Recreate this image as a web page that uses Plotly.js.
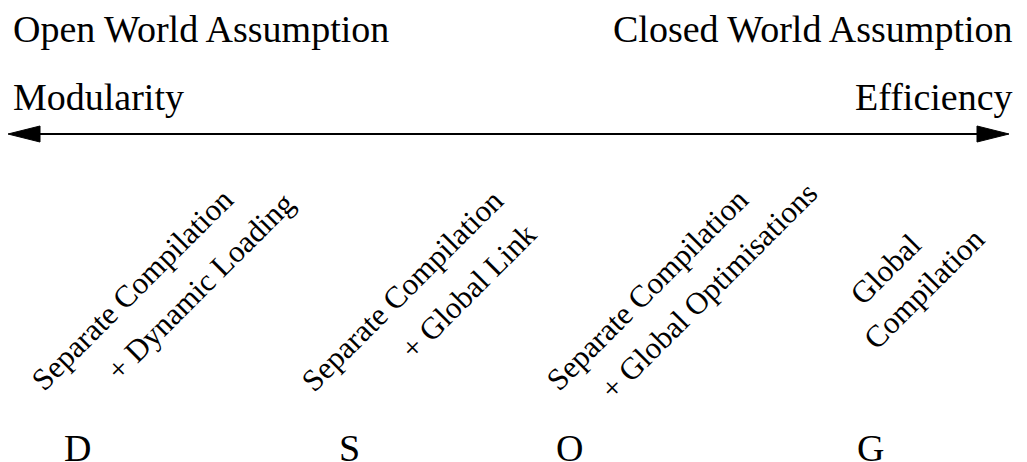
<!DOCTYPE html>
<html>
<head>
<meta charset="utf-8">
<script src="https://cdn.plot.ly/plotly-3.0.1.min.js"></script>
<style>html,body{margin:0;padding:0;background:#fff;}#chart{width:1027px;height:462px;}</style>
</head>
<body>
<div id="chart"></div>
<script>
// ---- data ----
const letters = ['D', 'S', 'O', 'G'];
const firstLines = ['Separate Compilation', 'Separate Compilation', 'Separate Compilation', 'Global'];
const secondLines = ['+ Dynamic Loading', '+ Global Link', '+ Global Optimisations', 'Compilation'];
const leftTitles = ['Open World Assumption', 'Modularity'];
const rightTitles = ['Closed World Assumption', 'Efficiency'];

// ---- layout (pixel space) ----
const W = 1027, H = 462;
const FONT = 'Liberation Serif, Times New Roman, serif';
const letterX = [77, 349, 569, 870];
const letterY = 448;
const line1Pos = [[132, 289], [402, 290], [647, 289], [885, 269]];
const line2Pos = [[200, 286], [468, 291], [708, 291], [924, 288]];
const titleY = [29, 97];
const arrowY = 134;

const ann = [];
leftTitles.forEach((t, i) => ann.push({x: 11, y: titleY[i], xref: 'x', yref: 'y', text: t, showarrow: false,
  xanchor: 'left', yanchor: 'middle', font: {family: FONT, size: 38, color: '#000'}}));
rightTitles.forEach((t, i) => ann.push({x: 1015, y: titleY[i], xref: 'x', yref: 'y', text: t, showarrow: false,
  xanchor: 'right', yanchor: 'middle', font: {family: FONT, size: 38, color: '#000'}}));
letters.forEach((t, i) => ann.push({x: letterX[i], y: letterY, xref: 'x', yref: 'y', text: t, showarrow: false,
  xanchor: 'center', yanchor: 'middle', font: {family: FONT, size: 38, color: '#000'}}));
firstLines.forEach((t, i) => ann.push({x: line1Pos[i][0], y: line1Pos[i][1], xref: 'x', yref: 'y', text: t, showarrow: false,
  textangle: -45, xanchor: 'center', yanchor: 'middle', font: {family: FONT, size: 31, color: '#000'}}));
secondLines.forEach((t, i) => ann.push({x: line2Pos[i][0], y: line2Pos[i][1], xref: 'x', yref: 'y', text: t, showarrow: false,
  textangle: -45, xanchor: 'center', yanchor: 'middle', font: {family: FONT, size: 31, color: '#000'}}));

const headL = 32, headH = 8, x0 = 8, x1 = 1009;
const shapes = [
  {type: 'line', xref: 'x', yref: 'y', x0: x0 + headL - 2, x1: x1 - headL + 2, y0: arrowY, y1: arrowY, line: {color: '#000', width: 2}},
  {type: 'path', xref: 'x', yref: 'y', path: `M ${x0} ${arrowY} L ${x0 + headL} ${arrowY - headH} L ${x0 + headL} ${arrowY + headH} Z`, fillcolor: '#000', line: {color: '#000', width: 1}},
  {type: 'path', xref: 'x', yref: 'y', path: `M ${x1} ${arrowY} L ${x1 - headL} ${arrowY - headH} L ${x1 - headL} ${arrowY + headH} Z`, fillcolor: '#000', line: {color: '#000', width: 1}}
];

Plotly.newPlot('chart', [{x: [0], y: [0], mode: 'markers', marker: {opacity: 0}, hoverinfo: 'skip', showlegend: false}], {
  width: W, height: H,
  margin: {l: 0, r: 0, t: 0, b: 0, pad: 0},
  paper_bgcolor: '#fff', plot_bgcolor: '#fff',
  xaxis: {range: [0, W], visible: false, fixedrange: true},
  yaxis: {range: [H, 0], visible: false, fixedrange: true},
  showlegend: false,
  annotations: ann,
  shapes: shapes
}, {staticPlot: true, displayModeBar: false});
</script>
</body>
</html>
